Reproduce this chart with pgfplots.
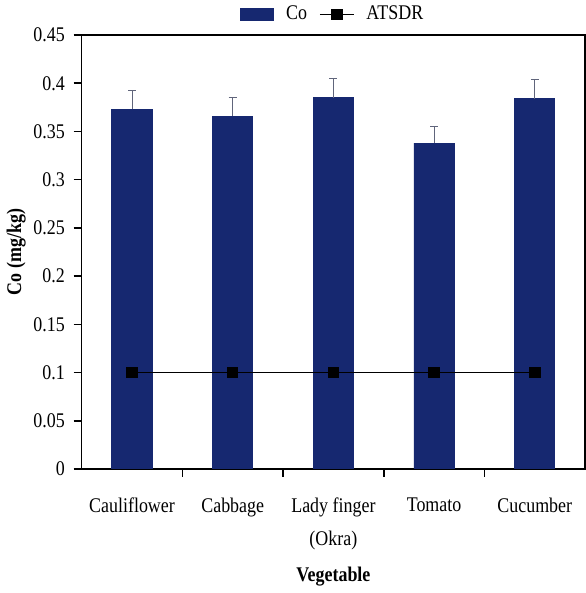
\documentclass[border=0pt]{standalone}
\usepackage{pgfplots}
\pgfplotsset{compat=1.18}
\usepackage{fontspec}
\setmainfont{Liberation Serif}[FakeStretch=0.86]
\definecolor{barnavy}{RGB}{22,40,112}
\begin{document}
\begin{tikzpicture}
\begin{axis}[
  scale only axis,
  width=253.5pt, height=218.5pt,
  xmin=-0.5, xmax=4.5,
  ymin=0, ymax=0.45,
  ytick={0,0.05,...,0.45},
  /pgf/number format/assume math mode=true,
  yticklabel style={/pgf/number format/fixed, /pgf/number format/precision=2, font=\fontsize{10.5}{12}\selectfont, xshift=-1pt},
  xtick={0,1,2,3,4},
  xticklabels={Cauliflower,Cabbage,{Lady finger\\(Okra)},Tomato,Cucumber},
  xticklabel style={align=center, font=\fontsize{10.5}{16.5}\selectfont, yshift=-7pt},
  major x tick style={draw=none},
  minor xtick={0.5,1.5,2.5,3.5},
  minor tick length=4pt,
  major tick length=4pt,
  tick align=outside,
  xtick pos=bottom, ytick pos=left,
  tick style={black, line width=0.8pt},
  axis line style={black, line width=0.8pt},
  xlabel={\textbf{Vegetable}},
  ylabel={\textbf{Co (mg/kg)}},
  label style={font=\fontsize{10.5}{12}\selectfont},
  xlabel style={yshift=-2pt},
  ylabel style={yshift=-3pt},
  legend columns=2,
  legend style={at={(0.5,1)}, anchor=south, draw=none, fill=none, yshift=3pt,
    font=\fontsize{10.5}{12}\selectfont, column sep=4pt, inner sep=1pt},
]
\addplot[ybar, bar width=0.4, fill=barnavy, draw=barnavy, area legend,
  error bars/.cd, y dir=plus, y explicit,
  error bar style={color=gray!70!barnavy, line width=0.5pt},
  error mark options={rotate=90, mark size=2pt, color=gray!70!barnavy}]
  coordinates {
  (0,0.373) +- (0,0.0195)
  (1,0.366) +- (0,0.019)
  (2,0.385) +- (0,0.020)
  (3,0.338) +- (0,0.0175)
  (4,0.384) +- (0,0.0195)
};
\addlegendentry{Co}
\addplot[black, line width=0.8pt, mark=square*, mark size=2.5pt, mark options={solid}]
  coordinates {(0,0.1) (1,0.1) (2,0.1) (3,0.1) (4,0.1)};
\addlegendentry{ATSDR}
\end{axis}
\end{tikzpicture}
\end{document}
